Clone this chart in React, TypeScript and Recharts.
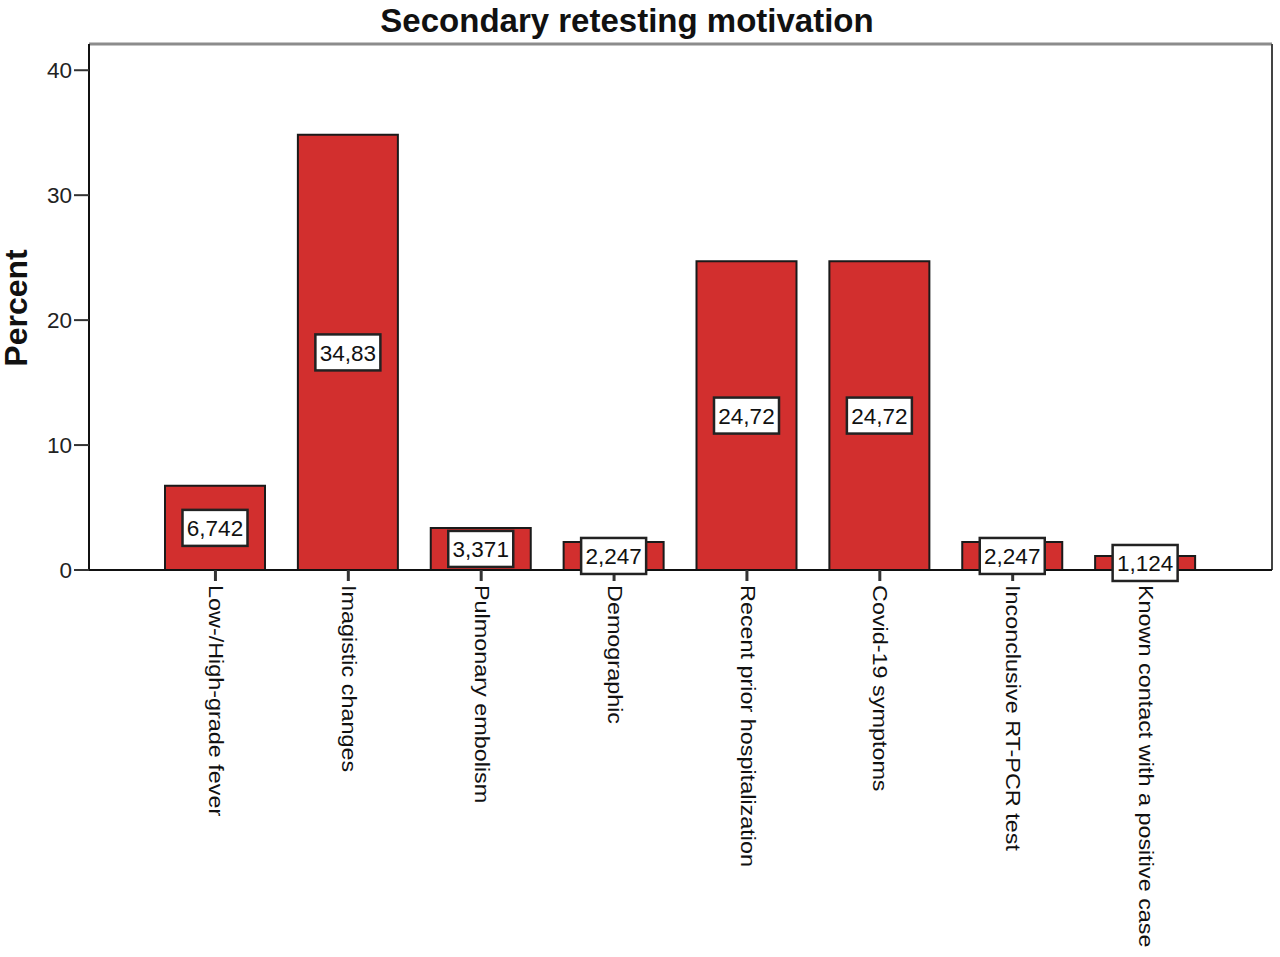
import React from 'react';
import * as RC from 'recharts';
import { BarChart, Bar, XAxis, YAxis, LabelList } from 'recharts';

const categories = [
  'Low-/High-grade fever',
  'Imagistic changes',
  'Pulmonary embolism',
  'Demographic',
  'Recent prior hospitalization',
  'Covid-19 symptoms',
  'Inconclusive RT-PCR test',
  'Known contact with a positive case',
];
const percents = [6.742, 34.83, 3.371, 2.247, 24.72, 24.72, 2.247, 1.124];
const yTicks = [0, 10, 20, 30, 40];

const rows = categories.map((name, i) => ({ name, value: percents[i] }));

const FONT = '"Liberation Sans", Arial, sans-serif';

// SPSS style: comma decimal, 4 significant digits
const fmt = (v: number) => v.toPrecision(4).replace('.', ',');

const CatTick = (props: any) => {
  const { x, y, payload } = props;
  return (
    <text
      x={0}
      y={0}
      transform={`translate(${x},${y + 2}) scale(1,1.2) rotate(90)`}
      textAnchor="start"
      dominantBaseline="central"
      fontSize={19.5}
      fontFamily={FONT}
      fill="#111"
    >
      {payload.value}
    </text>
  );
};

const ValueBox = (props: any) => {
  const { x, y, width, height, value } = props;
  const cx = x + width / 2;
  const cy = y + height / 2;
  return (
    <g>
      <rect x={cx - 32.5} y={cy - 18} width={65} height={36} fill="#fff" stroke="#222" strokeWidth={2.5} />
      <text x={cx} y={cy + 1} textAnchor="middle" dominantBaseline="central" fontSize={22.5} fontFamily={FONT} fill="#111">
        {fmt(value)}
      </text>
    </g>
  );
};

// top and right border of the plot frame
const Frame = () => {
  const hook: any = (RC as any).usePlotArea || (RC as any).useOffset;
  const area: any = hook ? hook() : null;
  if (!area) return null;
  const left = area.x ?? area.left;
  const top = area.y ?? area.top;
  const w = area.width ?? 1280 - area.left - area.right;
  const h = area.height ?? 957 - area.top - area.bottom;
  return (
    <g>
      <line x1={left} y1={top} x2={left + w} y2={top} stroke="#8c8c8c" strokeWidth={3} />
      <line x1={left + w} y1={top} x2={left + w} y2={top + h} stroke="#444" strokeWidth={2} />
    </g>
  );
};

const App = () => {
  return (
    <div style={{ position: 'absolute', left: 0, top: 0, width: 1280, height: 957, background: '#fff', fontFamily: FONT }}>
      <div style={{ position: 'absolute', left: 0, width: 1254, top: 2, textAlign: 'center', fontSize: 33, fontWeight: 'bold', color: '#111' }}>
        Secondary retesting motivation
      </div>
      <div
        style={{
          position: 'absolute',
          left: 16,
          top: 308,
          transform: 'translate(-50%, -50%) rotate(-90deg)',
          fontSize: 32,
          lineHeight: '30px',
          fontWeight: 'bold',
          color: '#111',
          whiteSpace: 'nowrap',
        }}
      >
        Percent
      </div>
      <BarChart width={1280} height={957} data={rows} margin={{ top: 44, right: 8, bottom: 0, left: 0 }} barSize={100}>
        <Frame />
        <XAxis
          dataKey="name"
          interval={0}
          height={387}
          padding={{ left: 60, right: 60 }}
          axisLine={{ stroke: '#111', strokeWidth: 2 }}
          tickLine={{ stroke: '#333', strokeWidth: 3 }}
          tickSize={11}
          tickMargin={2}
          tick={<CatTick />}
        />
        <YAxis
          domain={[0, 42.1]}
          ticks={yTicks}
          width={89}
          allowDataOverflow
          axisLine={{ stroke: '#111', strokeWidth: 2 }}
          tickLine={{ stroke: '#333', strokeWidth: 2 }}
          tickSize={15}
          tickMargin={2}
          tick={{ fontSize: 22.5, fill: '#222', fontFamily: FONT }}
        />
        <Bar dataKey="value" fill="#d22f2e" stroke="#1a1a1a" strokeWidth={2} isAnimationActive={false}>
          <LabelList dataKey="value" content={<ValueBox />} />
        </Bar>
      </BarChart>
    </div>
  );
};

export default App;
